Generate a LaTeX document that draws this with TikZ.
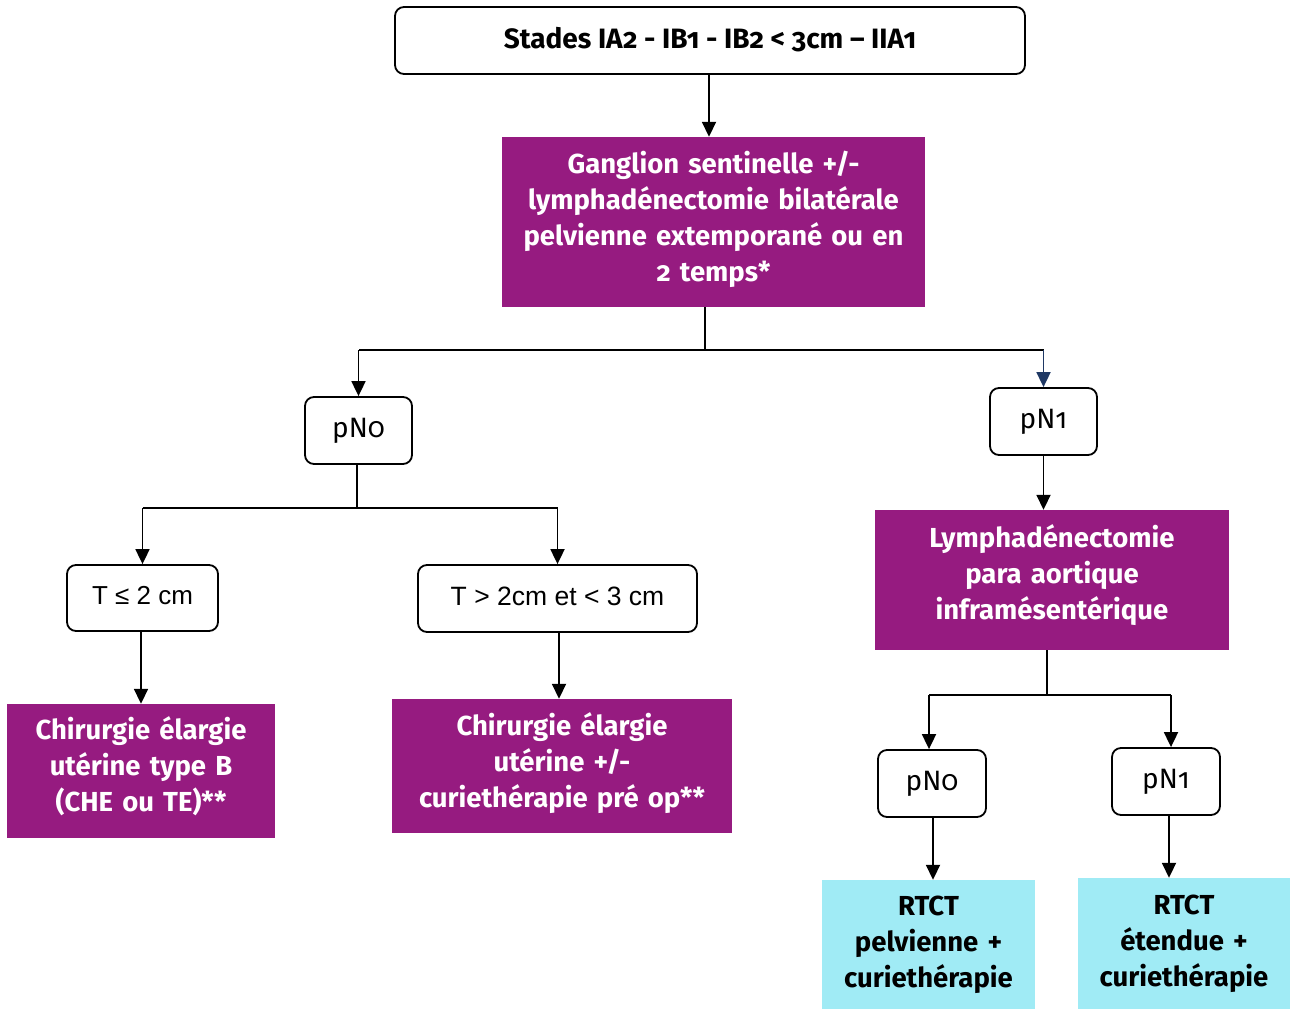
\documentclass[tikz,border=0pt]{standalone}
\usepackage{fontspec}
\setmainfont{Fira Sans}[Numbers=OldStyle]
\newfontfamily\arialfont{Liberation Sans}
\usetikzlibrary{arrows.meta}
\definecolor{violet}{HTML}{961B80}
\definecolor{cyanbox}{HTML}{A0EBF5}
\definecolor{navy}{HTML}{1F3864}
% invisible strut that deepens the last line, lifting the text block a little
\newcommand\deepen[1]{\rule[-#1]{0pt}{0pt}}
\tikzset{
  ln/.style={line width=1.8pt, draw=black},
  arr/.style={ln, -{Triangle[width=14pt,length=15pt]}},
  roundbox/.style={draw=black, line width=1.8pt, rounded corners=9pt, fill=white,
    inner sep=0pt, align=center, font=\fontsize{28}{30}\selectfont},
  violetbox/.style={fill=violet, text=white, inner sep=0pt, align=center,
    font=\fontsize{27.5}{36}\selectfont\bfseries},
  cyanbx/.style={fill=cyanbox, text=black, inner sep=0pt, align=center,
    font=\fontsize{27.5}{36}\selectfont\bfseries},
}
\begin{document}
\begin{tikzpicture}[x=1pt,y=-1pt]
\useasboundingbox (0,0) rectangle (1290,1009);

% top stage box
\node[roundbox, minimum width=630pt, minimum height=67pt, font=\fontsize{28}{30}\selectfont\bfseries]
  (top) at (710,40.5) {Stades IA2 - IB1 - IB2 < 3cm -- IIA1\deepen{6pt}};

% sentinel node procedure
\node[violetbox, minimum width=423pt, minimum height=170pt, text width=415pt]
  (gs) at (713.5,222) {Ganglion sentinelle +/-\\lymphadénectomie bilatérale\\pelvienne extemporané ou en\\2 temps*\deepen{12pt}};

% first nodal status level
\node[roundbox, minimum width=107pt, minimum height=67pt] (pn0) at (358.5,430.5) {pN0};
\node[roundbox, minimum width=107pt, minimum height=67pt] (pn1) at (1043.5,421.5) {pN1};

% tumour size
\node[roundbox, minimum width=151pt, minimum height=66pt, font=\fontsize{26}{30}\selectfont\arialfont]
  (t2) at (142.5,598) {T ≤ 2 cm\deepen{6pt}};
\node[roundbox, minimum width=279pt, minimum height=67pt, font=\fontsize{26.5}{30}\selectfont\arialfont]
  (t3) at (557.5,598.5) {T > 2cm et < 3 cm\deepen{5pt}};

% surgery boxes
\node[violetbox, minimum width=268pt, minimum height=134pt, text width=262pt]
  (chA) at (141,771) {Chirurgie élargie\\utérine type B\\(CHE ou TE)**\deepen{14pt}};
\node[violetbox, minimum width=340pt, minimum height=134pt, text width=335pt]
  (chB) at (562,766) {Chirurgie élargie\\utérine +/-\\curiethérapie pré op**\deepen{12pt}};

% para-aortic lymphadenectomy
\node[violetbox, minimum width=354pt, minimum height=140pt, text width=345pt]
  (lpa) at (1052,580) {Lymphadénectomie\\para aortique\\inframésentérique\deepen{16pt}};

% second nodal status level
\node[roundbox, minimum width=108pt, minimum height=67pt] (pn0b) at (932,783.5) {pN0};
\node[roundbox, minimum width=108pt, minimum height=67pt] (pn1b) at (1166,781.5) {pN1};

% radiochemotherapy boxes
\node[cyanbx, minimum width=213pt, minimum height=129pt, text width=208pt]
  (rtA) at (928.5,944.5) {RTCT\\pelvienne +\\curiethérapie};
\node[cyanbx, minimum width=212pt, minimum height=131pt, text width=208pt]
  (rtB) at (1184,943.5) {RTCT\\étendue +\\curiethérapie};

% connectors
\draw[arr] (top.south -| 709,0) -- (gs.north -| 709,0);

\coordinate (f1) at (705,350);
\draw[ln] (gs.south -| f1) -- (f1);
\draw[ln] (f1) -- (f1 -| pn0);
\draw[ln] (f1) -- (f1 -| pn1);
\draw[arr] (f1 -| pn0) -- (pn0.north);
\draw[arr, draw=navy, -{Triangle[width=14pt,length=15pt,fill=navy]}] (f1 -| pn1) -- (pn1.north);

\coordinate (f2) at (357,508);
\draw[ln] (pn0.south -| f2) -- (f2);
\draw[ln] (f2 -| t2) -- (f2 -| t3);
\draw[arr] (f2 -| t2) -- (t2.north);
\draw[arr] (f2 -| t3) -- (t3.north);

\draw[arr] (t2.south -| 141,0) -- (chA.north -| 141,0);
\draw[arr] (t3.south -| 559,0) -- (chB.north -| 559,0);

\draw[arr] (pn1.south) -- (lpa.north -| pn1);

\coordinate (f3) at (1047,695);
\draw[ln] (lpa.south -| f3) -- (f3);
\draw[ln] (f3 -| 929,0) -- (f3 -| 1171,0);
\draw[arr] (f3 -| 929,0) -- (pn0b.north -| 929,0);
\draw[arr] (f3 -| 1171,0) -- (pn1b.north -| 1171,0);

\draw[arr] (pn0b.south -| 933,0) -- (rtA.north -| 933,0);
\draw[arr] (pn1b.south -| 1169,0) -- (rtB.north -| 1169,0);
\end{tikzpicture}
\end{document}
